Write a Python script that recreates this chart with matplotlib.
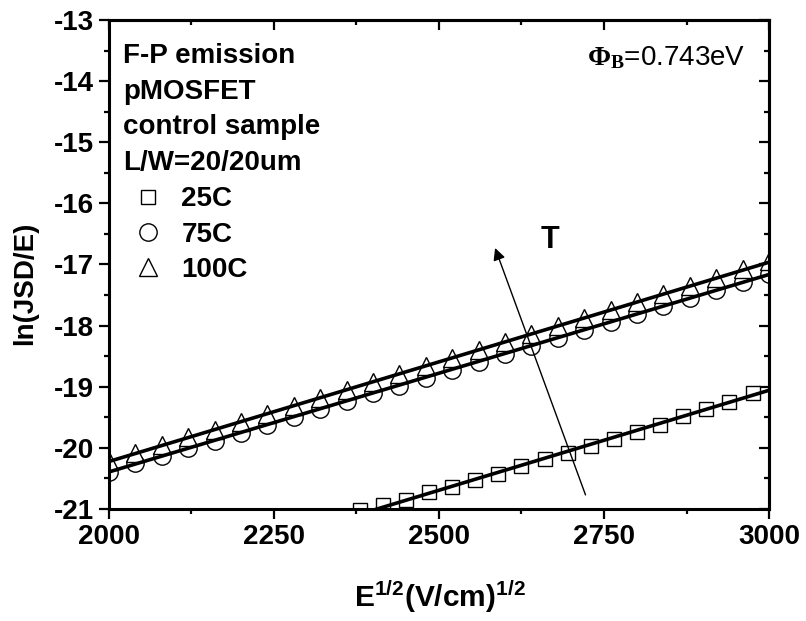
import matplotlib
matplotlib.use('Agg')
import matplotlib.pyplot as plt
import numpy as np

plt.rcParams['font.family'] = ['Liberation Sans', 'DejaVu Sans']
plt.rcParams['font.weight'] = 'bold'
plt.rcParams['mathtext.fontset'] = 'custom'
plt.rcParams['mathtext.rm'] = 'Liberation Serif:bold'
plt.rcParams['mathtext.bf'] = 'Liberation Sans:bold'
plt.rcParams['mathtext.it'] = 'Liberation Sans:bold'

# data
x_hot = [2000, 2040, 2080, 2120, 2160, 2200, 2240, 2280, 2320, 2360, 2400, 2440, 2480,
         2520, 2560, 2600, 2640, 2680, 2720, 2760, 2800, 2840, 2880, 2920, 2960, 3000]
y_75c = [-20.39, -20.25, -20.13, -20.01, -19.88, -19.75, -19.62, -19.49, -19.36, -19.23,
         -19.10, -18.98, -18.85, -18.72, -18.59, -18.46, -18.33, -18.20, -18.07, -17.94,
         -17.81, -17.68, -17.55, -17.42, -17.29, -17.15]
y_100c = [-20.22, -20.09, -19.96, -19.83, -19.70, -19.57, -19.44, -19.31, -19.18, -19.05,
          -18.92, -18.79, -18.66, -18.53, -18.40, -18.27, -18.14, -18.01, -17.88, -17.75,
          -17.62, -17.49, -17.36, -17.22, -17.08, -16.95]
x_25c = [2380, 2415, 2450, 2485, 2520, 2555, 2590, 2625, 2660, 2695, 2730, 2765, 2800,
         2835, 2870, 2905, 2940, 2975, 3010]
y_25c = [-21.02, -20.94, -20.86, -20.73, -20.64, -20.53, -20.42, -20.30, -20.19, -20.08,
         -19.97, -19.86, -19.74, -19.62, -19.48, -19.36, -19.25, -19.11, -18.96]

header = ['F-P emission', 'pMOSFET', 'control sample', 'L/W=20/20um']
arrow_tail = (2722, -20.77)
arrow_head = (2585, -16.73)

fig = plt.figure(figsize=(8.06, 6.21), dpi=100)
ax = fig.add_axes([0.1352, 0.1804, 0.8189, 0.7874])

mk = dict(mfc='white', mec='black', mew=1.0, ls='none')
ax.plot(x_25c, y_25c, marker='s', ms=10.5, label='25C', zorder=2, **mk)
ax.plot(x_hot, y_75c, marker='o', ms=12.5, label='75C', zorder=2.1, **mk)
ax.plot(x_hot, y_100c, marker='^', ms=13.5, label='100C', zorder=2.2, **mk)

# linear fits drawn on top of the markers
for xs, ys, lo in [(x_25c, y_25c, 2380), (x_hot, y_75c, 2000), (x_hot, y_100c, 2000)]:
    p = np.polyfit(xs, ys, 1)
    xx = np.array([lo, 3000])
    ax.plot(xx, np.polyval(p, xx), color='black', lw=2.6, zorder=3)

ax.annotate('', xy=arrow_head, xytext=arrow_tail,
            arrowprops=dict(arrowstyle='-|>', lw=1.0, color='black',
                            mutation_scale=18, shrinkA=0, shrinkB=0))
ax.text(2668, -16.6, 'T', fontsize=22, fontweight='bold', ha='center', va='center')

ax.set_xlim(2000, 3000)
ax.set_ylim(-21, -13)
ax.set_xticks([2000, 2250, 2500, 2750, 3000])
ax.set_xticks(np.arange(2000, 3001, 125), minor=True)
ax.set_yticks(np.arange(-21, -12, 1))
ax.set_yticks(np.arange(-21, -12.9, 0.5), minor=True)
ax.set_yticklabels([str(v) for v in range(-21, -12)])

for s in ax.spines.values():
    s.set_linewidth(2.2)
ax.tick_params(which='both', direction='out', top=False, right=False,
               labelsize=20, width=1.6)
ax.tick_params(which='major', length=7, pad=4)
ax.tick_params(which='minor', length=3.5)

# inward ticks on top and right
topax = ax.secondary_xaxis('top')
topax.set_xticks([2000, 2250, 2500, 2750, 3000])
topax.set_xticks(np.arange(2000, 3001, 125), minor=True)
topax.tick_params(which='both', direction='in', labeltop=False, width=1.6)
topax.tick_params(which='major', length=7)
topax.tick_params(which='minor', length=3.5)
topax.spines['top'].set_linewidth(2.2)
rax = ax.secondary_yaxis('right')
rax.set_yticks(np.arange(-21, -12, 1))
rax.set_yticks(np.arange(-21, -12.9, 0.5), minor=True)
rax.tick_params(which='both', direction='in', labelright=False, width=1.6)
rax.tick_params(which='major', length=7)
rax.tick_params(which='minor', length=3.5)
rax.spines['right'].set_linewidth(2.2)

ax.set_xlabel(r'$\mathbf{E^{1/2}(V/cm)^{1/2}}$', fontsize=21.5)
ax.xaxis.set_label_coords(0.502, -0.142)
ax.set_ylabel('ln(JSD/E)', fontsize=20, fontweight='bold')
ax.yaxis.set_label_coords(-0.108, 0.462)

for i, line in enumerate(header):
    ax.text(0.021, 0.912 - i * 0.073, line, transform=ax.transAxes,
            fontsize=20, fontweight='bold', va='baseline', ha='left')

ax.text(0.964, 0.908, r'$\mathrm{\Phi_B}$=0.743eV', transform=ax.transAxes,
        fontsize=20, fontweight='normal', va='baseline', ha='right')

ax.legend(loc='upper left', bbox_to_anchor=(0.038, 0.66), frameon=False,
          borderpad=0, borderaxespad=0, handlelength=1.0,
          handletextpad=0.7, labelspacing=0.34, prop={'weight': 'bold', 'size': 20})

fig.savefig('out.png', dpi=100)
